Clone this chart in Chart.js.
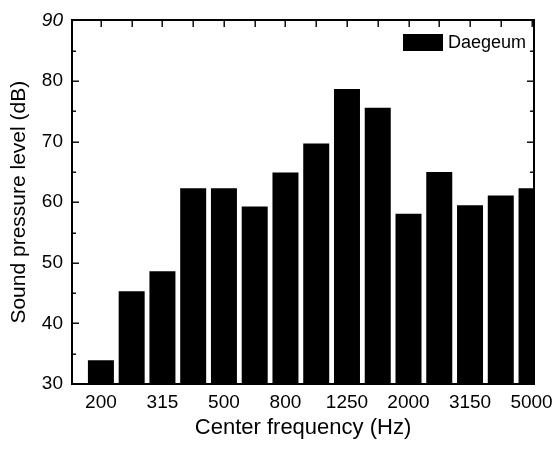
<!DOCTYPE html>
<html>
<head>
<meta charset="utf-8">
<script src="https://cdn.jsdelivr.net/npm/chart.js@4/dist/chart.umd.min.js"></script>
<style>
html,body{margin:0;padding:0;background:#fff;}
canvas{display:block;}
</style>
</head>
<body>
<canvas id="c" width="555" height="450"></canvas>
<script>
const frequencies = ['200','250','315','400','500','630','800','1000','1250','1600','2000','2500','3150','4000','5000'];
const splDaegeum = [33.9,45.3,48.6,62.3,62.3,59.3,64.9,69.7,78.7,75.6,58.1,65.0,59.5,61.1,62.3];
const yTicks = [30,40,50,60,70,80,90];
const seriesName = 'Daegeum';

const FONT = "'Liberation Sans', Arial, sans-serif";

const framePlugin = {
  id: 'frame',
  beforeDraw(chart) {
    const ctx = chart.ctx;
    ctx.save();
    ctx.fillStyle = '#fff';
    ctx.fillRect(0, 0, chart.width, chart.height);
    ctx.restore();
  },
  afterDraw(chart) {
    const {ctx, chartArea: a, scales} = chart;
    const xs = scales.x, ys = scales.y;
    const L = Math.round(a.left), R = Math.round(a.right), T = Math.round(a.top), B = Math.round(a.bottom);
    ctx.save();
    ctx.globalAlpha = 1;
    ctx.globalCompositeOperation = 'source-over';
    ctx.fillStyle = '#000';
    const w = 2;
    ctx.fillRect(L - 1, T - 1, R - L + 2, w);
    ctx.fillRect(L - 1, B - 1, R - L + 2, w);
    ctx.fillRect(L - 1, T - 1, w, B - T + 2);
    ctx.fillRect(R - 1, T - 1, w, B - T + 2);
    for (let v = ys.min; v <= ys.max + 0.001; v += 5) {
      const y = Math.round(ys.getPixelForValue(v));
      const len = (v % 10 === 0) ? 7 : 4;
      ctx.fillRect(L, y - 0.5, len, 1.4);
      ctx.fillRect(R - len, y - 0.5, len, 1.4);
    }
    frequencies.forEach((f, i) => {
      const x = Math.round(xs.getPixelForValue(i));
      if (x > R || x < L) return;
      ctx.fillRect(x - 0.5, T, 1.4, 7);
      ctx.fillRect(x - 0.5, B - 7, 1.4, 7);
    });
    const bx = R - 131, by = T + 14;
    ctx.fillRect(bx, by, 40, 17);
    ctx.font = "18px " + FONT;
    ctx.textBaseline = 'middle';
    ctx.textAlign = 'left';
    ctx.fillText(chart.data.datasets[0].label, bx + 45, by + 9);
    ctx.restore();
  }
};

new Chart(document.getElementById('c'), {
  type: 'bar',
  data: {
    datasets: [{
      label: seriesName,
      data: splDaegeum.map((v, i) => ({x: i, y: v})),
      backgroundColor: '#000',
      borderWidth: 0,
      categoryPercentage: 1.0,
      barPercentage: 0.845
    }]
  },
  options: {
    responsive: false,
    animation: false,
    events: [],
    layout: {padding: {top: 19, right: 21, left: 0, bottom: 0}},
    plugins: {legend: {display: false}, tooltip: {enabled: false}},
    scales: {
      x: {
        type: 'linear',
        offset: false,
        min: -0.94,
        max: 14.08,
        grid: {display: false, drawTicks: false, offset: false},
        border: {display: false},
        afterBuildTicks(scale) {
          scale.ticks = frequencies.map((f, i) => ({value: i})).filter(t => t.value % 2 === 0);
        },
        afterFit(scale) {
          scale.height = 66;
          scale.paddingLeft = 0;
          scale.paddingRight = 0;
        },
        ticks: {
          autoSkip: false,
          maxRotation: 0,
          padding: 7,
          color: '#000',
          font: {family: FONT, size: 19},
          callback: (v) => frequencies[v]
        },
        title: {
          display: true,
          text: 'Center frequency (Hz)',
          color: '#000',
          font: {family: FONT, size: 22},
          padding: {top: 0, bottom: 9}
        }
      },
      y: {
        min: 30,
        max: 90,
        grid: {display: false, drawTicks: false},
        border: {display: false},
        afterBuildTicks(scale) {
          scale.ticks = yTicks.map(v => ({value: v}));
        },
        afterFit(scale) { scale.width = 72; },
        ticks: {
          padding: 9,
          color: '#000',
          font: (ctx) => ({family: FONT, size: 19, style: (ctx.tick && ctx.tick.value === 90) ? 'italic' : 'normal'})
        },
        title: {
          display: true,
          text: 'Sound pressure level (dB)',
          color: '#000',
          font: {family: FONT, size: 21},
          padding: {top: 7, bottom: 0}
        }
      }
    }
  },
  plugins: [framePlugin]
});
</script>
</body>
</html>
